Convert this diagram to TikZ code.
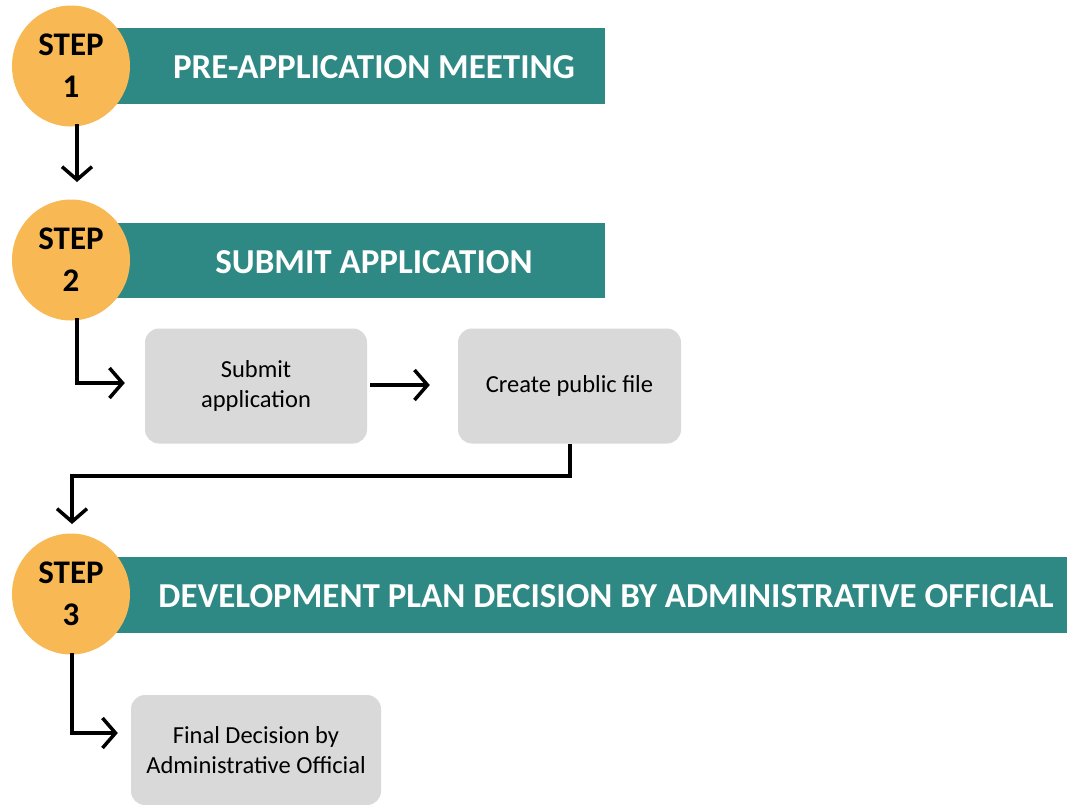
\documentclass[tikz,border=0pt]{standalone}
\usepackage{fontspec}
\setmainfont{Carlito}
\usetikzlibrary{arrows.meta,shapes.geometric}
\definecolor{stepor}{HTML}{F8B955}
\definecolor{teal}{HTML}{2E8883}
\definecolor{boxgray}{HTML}{D9D9D9}
\tikzset{
  stepcirc/.style={ellipse, fill=stepor, minimum width=118pt, minimum height=121pt, inner sep=0pt, align=center, font=\fontsize{33}{42}\selectfont\bfseries},
  banner/.style={fill=teal, inner sep=0pt},
  bantext/.style={text=white, font=\fontsize{35}{40}\selectfont\bfseries, inner sep=0pt},
  graybox/.style={fill=boxgray, rounded corners=14pt, minimum width=222pt, minimum height=115pt, align=center, font=\fontsize{24.5}{30}\selectfont, inner sep=0pt},
  arr/.style={line width=3.5pt, -{Straight Barb[length=13pt, width=30pt, line width=3.5pt]}},
}
\begin{document}
\begin{tikzpicture}[x=1pt,y=-1pt]
\useasboundingbox[fill=white] (0,0) rectangle (1067,804);
% banners
\path[banner] (100,28) rectangle (605,104);
\path[banner] (100,223) rectangle (605,298);
\path[banner] (100,557) rectangle (1067,633);
\node[bantext] (t1) at (374,67) {PRE-APPLICATION MEETING};
\node[bantext] (t2) at (374,262) {SUBMIT APPLICATION};
\node[bantext] (t3) at (606,596) {DEVELOPMENT PLAN DECISION BY ADMINISTRATIVE OFFICIAL};
% circles
\node[stepcirc] (c1) at (71,66) {STEP\\1};
\node[stepcirc] (c2) at (71,260) {STEP\\2};
\node[stepcirc] (c3) at (71,594) {STEP\\3};
% boxes
\node[graybox] (s1) at (256,386) {Submit\\application};
\node[graybox, minimum width=223pt] (s2) at (569.5,386) {Create public file};
\node[graybox, minimum width=250pt, minimum height=110pt] (f1) at (256,750) {Final Decision by\\Administrative Official};
% connectors
\coordinate (a1s) at (77,124);
\coordinate (a1e) at (77,182);
\draw[arr] (a1s) -- (a1e);
\coordinate (a2s) at (77,318);
\draw[arr] (a2s) |- ([xshift=-20pt]s1.west |- 0,383);
\draw[arr] ([xshift=3pt]s1.east |- 0,385) -- ([xshift=-28pt]s2.west |- 0,385);
\coordinate (a4e) at (72,524);
\draw[arr] (s2.south -| 570,0) -- (570,476) -| (a4e);
\coordinate (a5s) at (72,653);
\draw[arr] (a5s) |- ([xshift=-13pt]f1.west |- 0,733);
\end{tikzpicture}
\end{document}
